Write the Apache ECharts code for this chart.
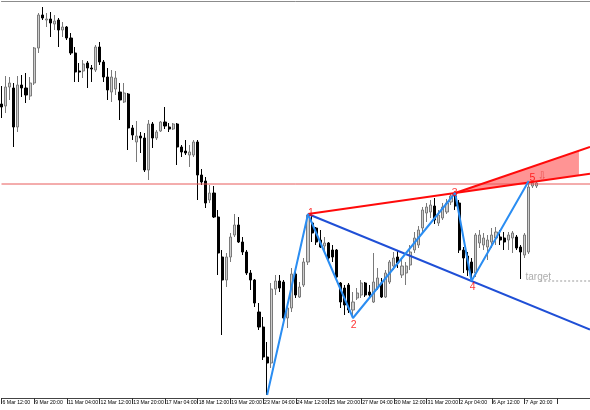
<!DOCTYPE html>
<html><head><meta charset="utf-8">
<script src="https://cdn.jsdelivr.net/npm/echarts@6/dist/echarts.min.js"></script>
<style>html,body{margin:0;padding:0;background:#fff}#c{width:590px;height:410px}</style>
</head><body><div id="c"></div>
<script>
// H4 bars; every 8th bar carries a time label
const tickLabels = ["6 Mar 12:00","9 Mar 20:00","11 Mar 04:00","12 Mar 12:00","13 Mar 20:00","17 Mar 04:00","18 Mar 12:00","19 Mar 20:00","23 Mar 04:00","24 Mar 12:00","25 Mar 20:00","27 Mar 04:00","30 Mar 12:00","31 Mar 20:00","2 Apr 04:00","6 Apr 12:00","7 Apr 20:00"];
const tickStep = 8;
const slotCount = 145; // bars + empty right shift
const categories = Array.from({length: slotCount}, (_, i) => 'b' + i);

const open = [294,292,311,310,271,313,310,302,315,350, 383,378,379,374,378,368,371,360,345,327, 327,335,330,328,351,336,321,306,309,306, 296,304,270,256,262,260,228,274,260,267, 276,271,269,274,251,247,243,243,256,223, 217,198,205,181,141,118,141,163,173,156, 146,125,118,86,71,41,35,109,117,116, 80,90,124,101,113,136,175,170,158,152, 155,148,148,115,110,113,88,100,103,115, 106,96,110,115,101,116,132,141,123,125, 133,148,153,170,185,186,192,175,180,186, 196,202,195,148,142,136,125,155,153,151, 156,160,161,160,158,160,161,151,143,146, 212,212];
const close = [291,311,315,271,313,310,303,315,350,383, 380,379,375,377,368,371,360,345,326,326, 334,330,329,351,336,321,308,321,320,298, 305,270,263,262,260,228,274,260,266,276, 272,269,274,251,246,245,246,256,223,216, 195,205,181,145,118,141,161,173,156,146, 125,118,95,71,41,35,109,117,110,80, 90,124,103,111,136,183,165,156,151,155, 140,141,121,96,93,88,96,105,115,103, 103,116,120,101,125,136,140,135,132,132, 146,160,168,188,191,193,178,183,191,195, 202,192,148,140,128,125,163,163,160,158, 163,166,158,156,163,165,150,146,163,211, 215,215];
const low = [280,285,298,251,266,301,295,298,313,345, 378,371,361,368,351,361,358,343,316,316, 320,310,316,326,333,316,298,296,303,278, 295,248,258,236,245,226,218,250,258,266, 269,266,268,233,241,243,231,241,198,213, 190,195,180,123,63,111,136,161,155,143, 123,108,91,68,38,3,30,103,106,76, 70,86,100,100,111,133,156,153,150,146, 136,136,120,90,83,85,80,98,100,101, 101,95,108,100,100,114,128,130,120,113, 128,145,150,166,176,180,174,172,178,184, 193,188,145,125,122,117,121,150,148,138, 150,153,153,148,148,145,148,119,140,144, 210,210];
const high = [312,322,321,315,322,323,325,321,351,385, 391,385,386,383,380,376,372,365,351,335, 338,337,333,353,356,338,330,328,327,315, 315,305,273,277,266,265,278,276,268,277, 291,275,275,275,253,258,253,258,258,229, 221,213,212,188,148,145,165,184,181,161, 148,128,119,95,81,56,115,123,123,118, 96,130,130,116,140,184,183,171,168,161, 156,153,149,116,113,115,106,110,118,116, 113,145,130,120,128,138,146,148,140,136, 153,166,172,191,195,198,200,188,195,199, 204,205,198,151,146,140,165,168,165,163, 170,171,168,166,166,167,163,153,165,217, 220,217];

// Wolfe wave pivots (bar index, price)
const waveBars = [65, 75, 86, 111, 115, 129];
const wavePrices = [3, 184, 80, 205, 117, 217];
const waveLabelText = ['1', '2', '3', '4', '5'];
const waveLabelBars = [75.7, 86.2, 110.9, 115.3, 129.9];
const waveLabelPrices = [185, 73, 205, 111, 219.5];
const levelPrice = 214;
const targetPrice = 117;
const targetStartBar = 131.8;
const targetTextPos = [128.1, 121];
const arrowPos = [132.4, 221];
const upperLineEnd = [144, 251];
const fillEndBar = 141.3;
const lastSlot = slotCount - 1;

const ohlc = open.map((o, i) => [o, close[i], low[i], high[i]]);
const P = waveBars.map((b, i) => [b, wavePrices[i]]);
function extend(a, b, x) { return [x, a[1] + (b[1] - a[1]) * (x - a[0]) / (b[0] - a[0])]; }
const line13End = extend(P[1], P[3], lastSlot);
const line14End = extend(P[1], P[4], lastSlot);
const fillUpper = extend(P[3], upperLineEnd, fillEndBar);
const fillLower = extend(P[1], P[3], fillEndBar);
const showTick = (i) => i % tickStep === 0;

const chart = echarts.init(document.getElementById('c'), null, {renderer: 'canvas'});
chart.setOption({
  animation: false,
  backgroundColor: '#ffffff',
  grid: {left: 1.5, right: 0, top: 1, bottom: 12, containLabel: false, outerBoundsMode: 'none'},
  xAxis: [{
    type: 'category', data: categories, boundaryGap: false, position: 'bottom',
    axisLine: {lineStyle: {color: '#444', width: 1}},
    axisTick: {show: true, interval: showTick, length: 6, lineStyle: {color: '#333'}},
    axisLabel: {interval: showTick, formatter: (v, i) => tickLabels[i / tickStep] || '', align: 'left',
      fontSize: 5.2, fontFamily: 'Liberation Sans', color: '#000', margin: 2.5, padding: [0, 0, 0, 1]},
    splitLine: {show: false}
  }, {
    type: 'value', min: 0, max: lastSlot, position: 'top',
    axisLine: {show: true, onZero: false, lineStyle: {color: '#8c8c8c', width: 1}},
    axisTick: {show: false}, axisLabel: {show: false}, splitLine: {show: false}
  }],
  yAxis: {type: 'value', min: 0, max: 397, show: false, splitLine: {show: false}},
  series: [
    {
      type: 'candlestick', xAxisIndex: 0, data: ohlc, barWidth: 2.6,
      itemStyle: {color: '#cdcdcd', borderColor: '#7a7a7a', color0: '#000000', borderColor0: '#000000', borderWidth: 1}
    },
    {
      type: 'custom', xAxisIndex: 1, data: [[P[3][0], P[3][1]]], z: 3,
      renderItem: function (params, api) {
        const pts = [api.coord(P[3]), api.coord(fillUpper), api.coord(fillLower)];
        return {type: 'polygon', shape: {points: pts}, style: {fill: '#ff9494'}};
      }
    },
    {type: 'line', xAxisIndex: 1, data: [[0, levelPrice], [lastSlot, levelPrice]], showSymbol: false, z: 4,
      lineStyle: {color: '#e85a5a', width: 1}},
    {type: 'line', xAxisIndex: 1, data: [[targetStartBar, targetPrice], [lastSlot, targetPrice]], showSymbol: false, z: 4,
      lineStyle: {color: '#999999', width: 1, type: [2, 2]}},
    {type: 'line', xAxisIndex: 1, data: [P[1], line14End], showSymbol: false, z: 5,
      lineStyle: {color: '#1f4fd6', width: 2}},
    {type: 'line', xAxisIndex: 1, data: [P[1], line13End], showSymbol: false, z: 5,
      lineStyle: {color: '#ff0a0a', width: 2}},
    {type: 'line', xAxisIndex: 1, data: [P[3], upperLineEnd], showSymbol: false, z: 5,
      lineStyle: {color: '#ff0a0a', width: 2}},
    {type: 'line', xAxisIndex: 1, data: P, showSymbol: false, z: 6,
      lineStyle: {color: '#2a8df2', width: 2}},
    {
      type: 'scatter', xAxisIndex: 1, symbolSize: 1, z: 7, itemStyle: {color: 'rgba(0,0,0,0)'},
      data: waveLabelText.map((t, i) => ({value: [waveLabelBars[i], waveLabelPrices[i]],
        label: {show: true, position: 'inside', formatter: t, color: '#ff0000', fontSize: 10.5, fontFamily: 'Liberation Sans'}}))
        .concat([
          {value: arrowPos, label: {show: true, position: 'inside', formatter: '\u21E9', color: '#e84848', fontSize: 12, fontFamily: 'DejaVu Sans'}},
          {value: targetTextPos, label: {show: true, position: 'right', distance: 0, formatter: 'target', color: '#999999', fontSize: 10, fontFamily: 'Liberation Sans'}}
        ])
    }
  ]
});
</script></body></html>
